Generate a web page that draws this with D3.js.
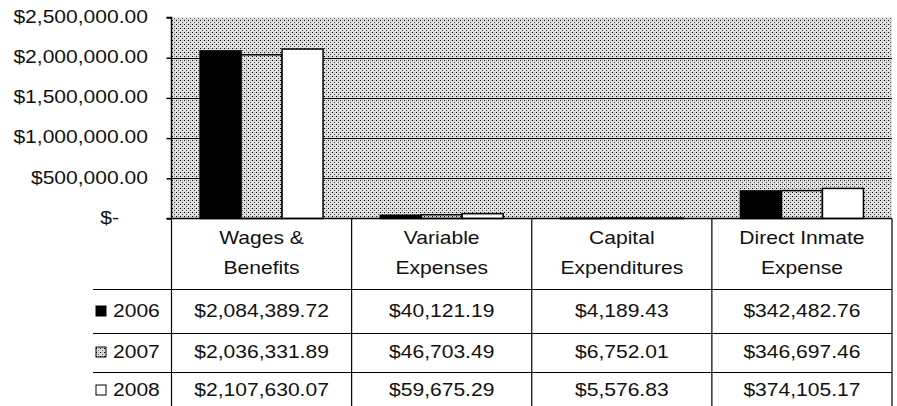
<!DOCTYPE html>
<html>
<head>
<meta charset="utf-8">
<script src="https://cdn.jsdelivr.net/npm/d3@7"></script>
<style>
  html, body { margin: 0; padding: 0; background: #fff; }
  text { font-family: "Liberation Sans", Arial, sans-serif; font-size: 18px; fill: #111; }
</style>
</head>
<body>
<svg id="chart" width="897" height="406"></svg>
<script>
const categories = [["Wages &", "Benefits"], ["Variable", "Expenses"], ["Capital", "Expenditures"], ["Direct Inmate", "Expense"]];
const seriesNames = ["2006", "2007", "2008"];
const values2006 = [2084389.72, 40121.19, 4189.43, 342482.76];
const values2007 = [2036331.89, 46703.49, 6752.01, 346697.46];
const values2008 = [2107630.07, 59675.29, 5576.83, 374105.17];
const yTicks = [0, 500000, 1000000, 1500000, 2000000, 2500000];

(function () {
const series = [values2006, values2007, values2008];
const SX = 1.17;
const svg = d3.select("#chart");

// pattern (dithered gray)
const defs = svg.append("defs");
const pat = defs.append("pattern").attr("id", "dither").attr("patternUnits", "userSpaceOnUse")
  .attr("width", 4).attr("height", 4);
pat.append("rect").attr("width", 4).attr("height", 4).attr("fill", "#dedede");
pat.append("rect").attr("x", 0).attr("y", 0).attr("width", 1).attr("height", 1).attr("fill", "#000");
pat.append("rect").attr("x", 2).attr("y", 2).attr("width", 1).attr("height", 1).attr("fill", "#555");
pat.append("rect").attr("x", 2).attr("y", 0).attr("width", 1).attr("height", 1).attr("fill", "#b0b0b0");

const fills = ["#000", "url(#dither)", "#fff"];

const pLeft = 171.5, pRight = 892, pTop = 17.5, zeroY = 218.5;
const x0 = d3.scaleBand().domain(d3.range(categories.length)).range([pLeft, pRight]).padding(0);
const bw = x0.bandwidth();
const groupW = 123;
const x1 = d3.scaleBand().domain(d3.range(seriesNames.length)).range([(bw - groupW) / 2, (bw + groupW) / 2]).padding(0);
const y = d3.scaleLinear().domain([0, 2500000]).range([zeroY, pTop]);

function txt(g, x, yy, s, anchor) {
  return g.append("text")
    .attr("transform", `translate(${x},${yy}) scale(${SX},1)`)
    .attr("text-anchor", anchor)
    .attr("dy", "0.35em")
    .text(s);
}

// plot background
svg.append("rect").attr("x", pLeft).attr("y", pTop).attr("width", pRight - pLeft).attr("height", zeroY - pTop)
  .attr("fill", "url(#dither)");

// gridlines
svg.append("g").selectAll("line").data(yTicks.filter(d => d > 0 && d < 2500000)).join("line")
  .attr("x1", pLeft).attr("x2", pRight)
  .attr("y1", d => Math.round(y(d)) + 0.5).attr("y2", d => Math.round(y(d)) + 0.5)
  .attr("stroke", "#000").attr("stroke-width", 1);

// bars
const bars = svg.append("g");
categories.forEach((c, ci) => {
  series.forEach((vals, si) => {
    const v = vals[ci];
    const h = zeroY - y(v);
    bars.append("rect")
      .attr("x", x0(ci) + x1(si))
      .attr("y", y(v))
      .attr("width", x1.bandwidth())
      .attr("height", Math.max(h, 0.5))
      .attr("fill", fills[si])
      .attr("stroke", "#000")
      .attr("stroke-width", 1.5);
  });
});

// y axis
const yAxis = d3.axisLeft(y).tickValues(yTicks).tickSize(5).tickFormat("");
const ag = svg.append("g").attr("transform", `translate(${pLeft},0)`).call(yAxis);
ag.selectAll("path, line").attr("stroke", "#000").attr("stroke-width", 1.5);
ag.select(".domain").attr("d", `M-5,${pTop}H0V${zeroY}`);

const lbl = svg.append("g");
yTicks.forEach(t => {
  if (t === 0) txt(lbl, 119, y(t) - 1, "$-", "end");
  else txt(lbl, 148, y(t) - 1, d3.format("$,.2f")(t), "end");
});

// data table
const tableBottom = 406;
const rowLines = [289, 333, 372];
const rowCenters = [311, 352, 390];
const tg = svg.append("g");
tg.append("line").attr("x1", pLeft - 5).attr("x2", pRight).attr("y1", zeroY).attr("y2", zeroY)
  .attr("stroke", "#000").attr("stroke-width", 1.5);
rowLines.forEach(ry => {
  tg.append("line").attr("x1", 93).attr("x2", pRight).attr("y1", ry + 0.5).attr("y2", ry + 0.5)
    .attr("stroke", "#000").attr("stroke-width", 1);
});
d3.range(categories.length + 1).forEach(i => {
  const xx = i < categories.length ? x0(i) : pRight;
  tg.append("line").attr("x1", xx).attr("x2", xx).attr("y1", zeroY).attr("y2", tableBottom)
    .attr("stroke", "#000").attr("stroke-width", 1.2);
});
categories.forEach((c, ci) => {
  const cx = x0(ci) + bw / 2;
  txt(tg, cx, 238, c[0], "middle");
  txt(tg, cx, 268, c[1], "middle");
});
const fmt = d3.format("$,.2f");
series.forEach((vals, si) => {
  const cy = rowCenters[si];
  tg.append("rect").attr("x", 96).attr("y", cy - 5).attr("width", 10).attr("height", 10)
    .attr("fill", fills[si]).attr("stroke", "#000").attr("stroke-width", 1);
  txt(tg, 113, cy, seriesNames[si], "start");
  vals.forEach((v, ci) => {
    txt(tg, x0(ci) + bw / 2, cy, fmt(v), "middle");
  });
});
})();
</script>
</body>
</html>
